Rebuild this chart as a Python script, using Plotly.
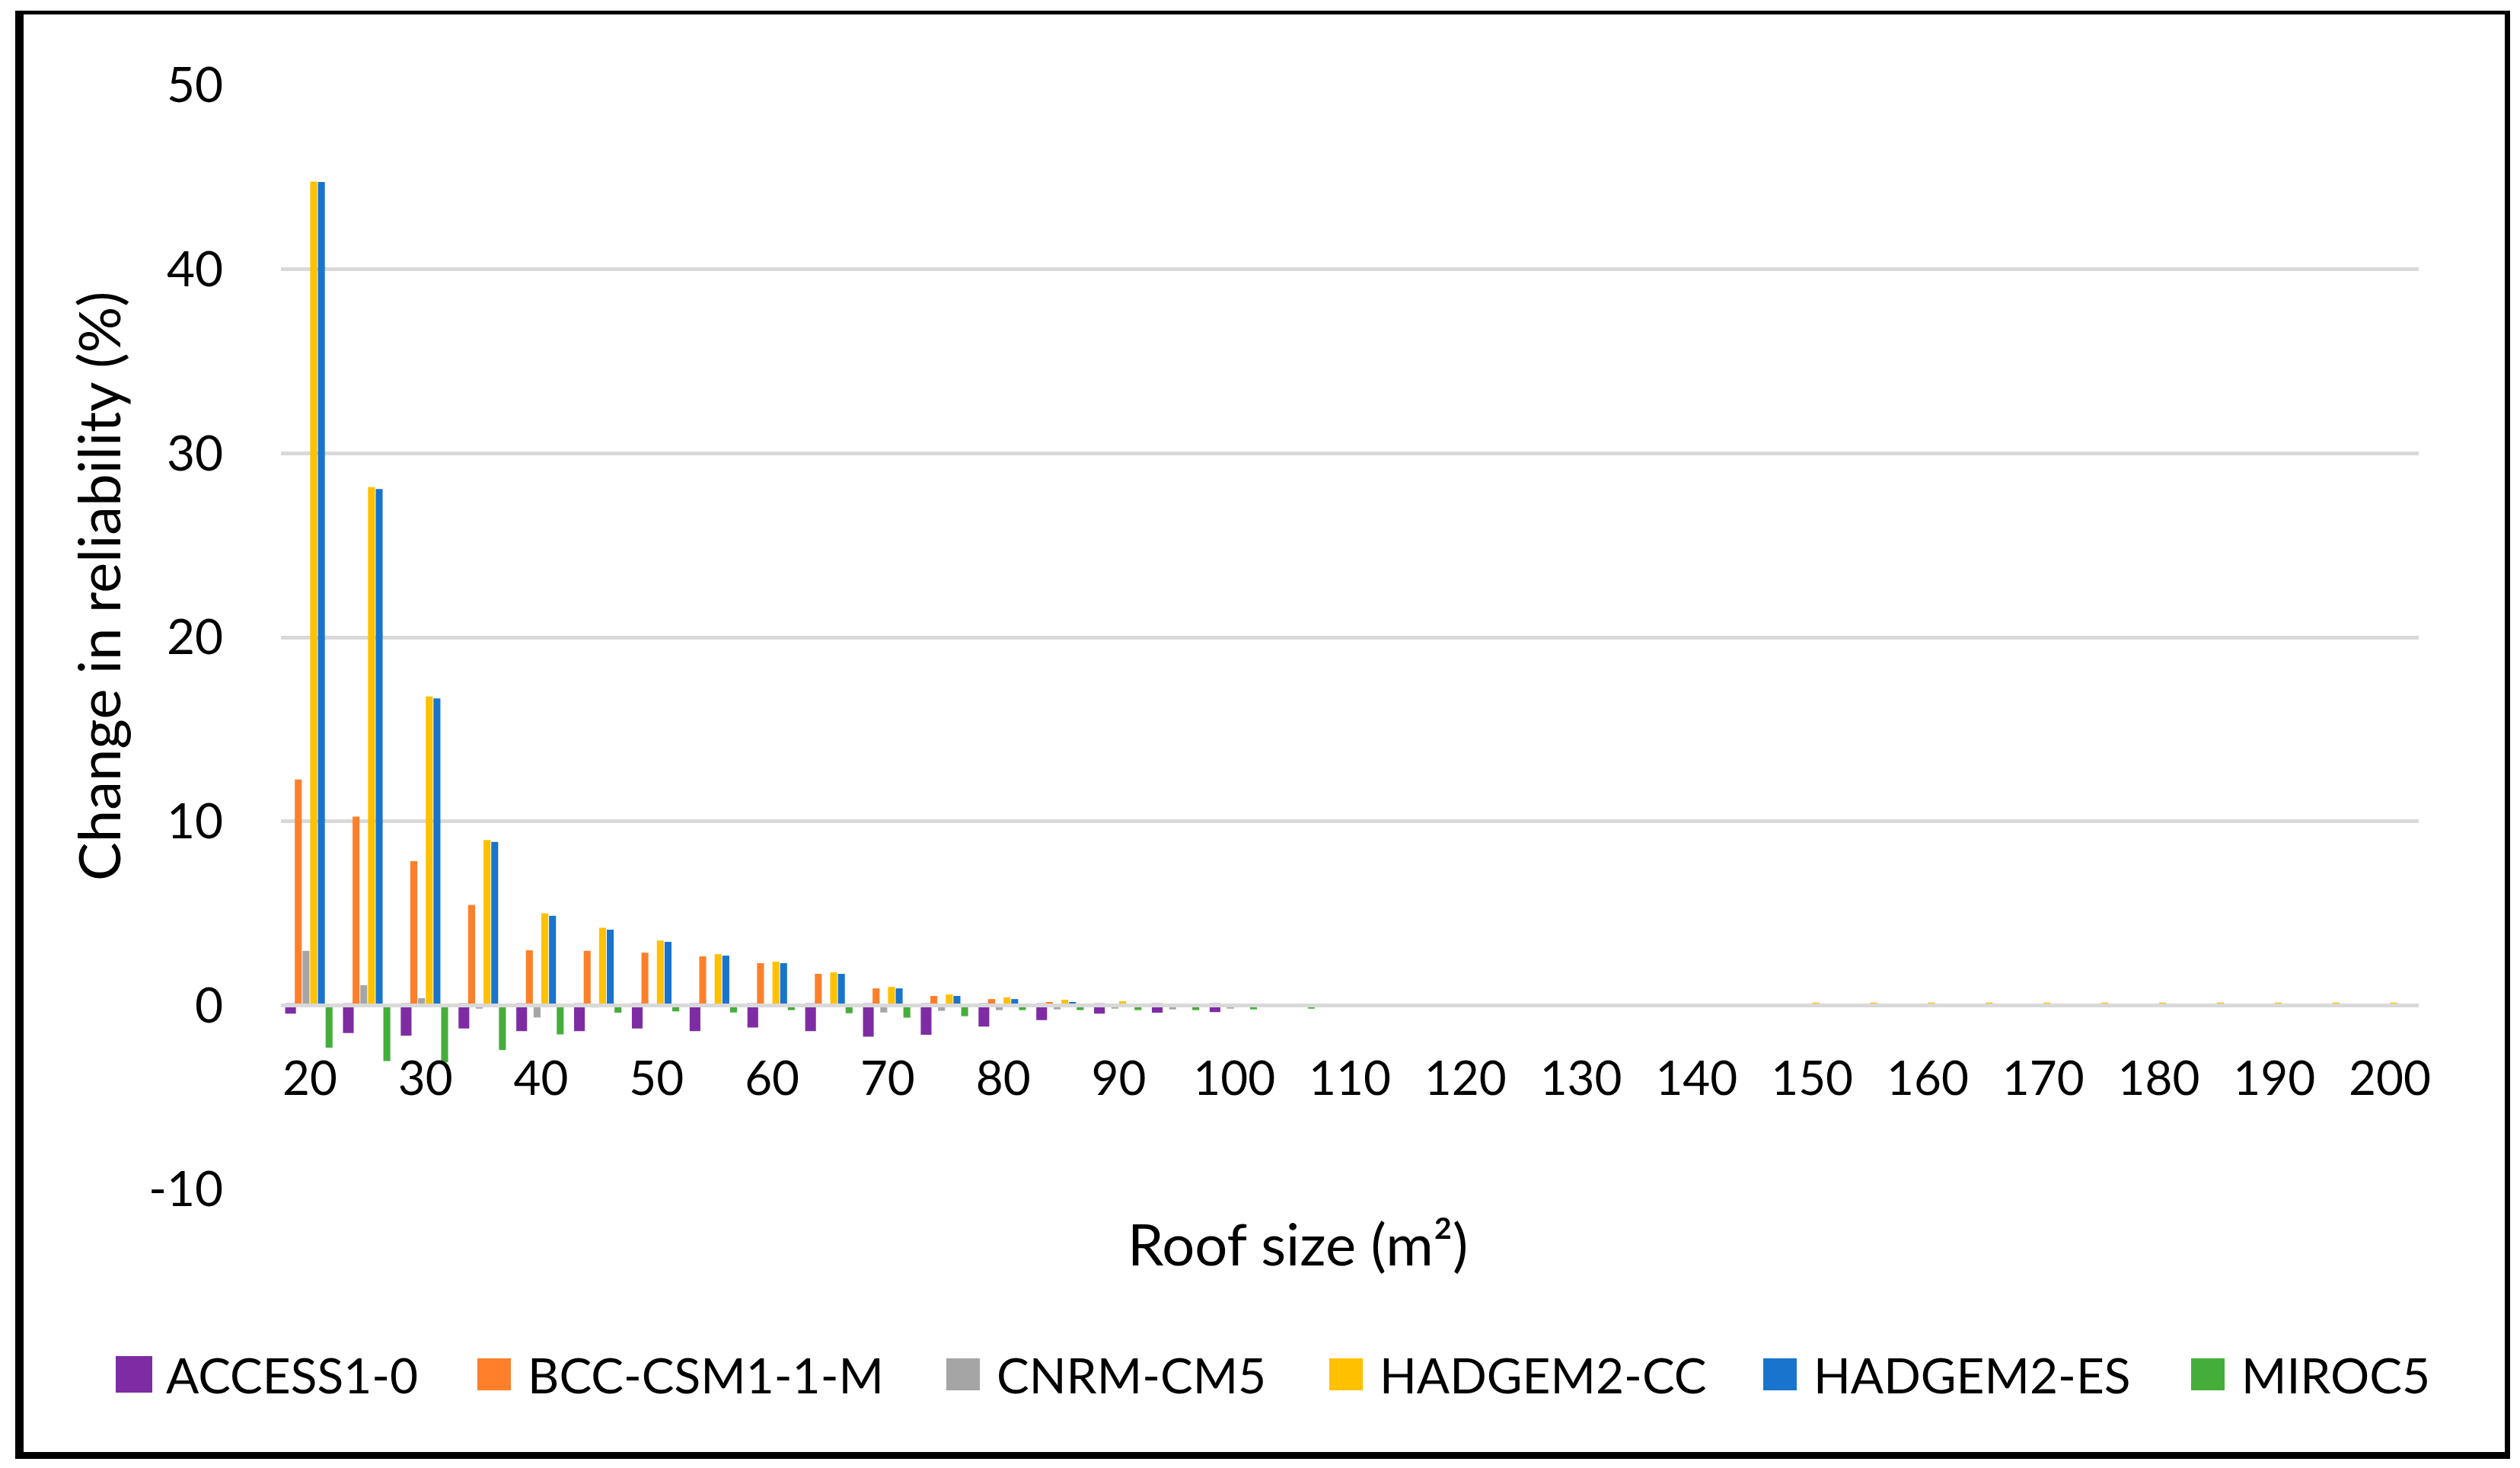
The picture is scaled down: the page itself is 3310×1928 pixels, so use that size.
import plotly.graph_objects as go

# ---------------- data ----------------
roof_sizes = ["20", "25", "30", "35", "40", "45", "50", "55", "60", "65",
              "70", "75", "80", "85", "90", "95", "100", "105", "110", "115",
              "120", "125", "130", "135", "140", "145", "150", "155", "160", "165",
              "170", "175", "180", "185", "190", "195", "200"]

x_tick_labels = ["20", "30", "40", "50", "60", "70", "80", "90", "100", "110",
                 "120", "130", "140", "150", "160", "170", "180", "190", "200"]

y_tick_values = [-10, 0, 10, 20, 30, 40, 50]
y_tick_labels = ["-10", "0", "10", "20", "30", "40", "50"]

access1_0 = [-0.35, -1.4, -1.55, -1.15, -1.3, -1.3, -1.15, -1.3, -1.1, -1.3,
             -1.6, -1.5, -1.05, -0.7, -0.35, -0.3, -0.27, 0, 0, 0,
             0, 0, 0, 0, 0, 0, 0, 0, 0, 0,
             0, 0, 0, 0, 0, 0, 0]
bcc_csm1_1_m = [12.27, 10.26, 7.83, 5.46, 2.99, 2.96, 2.86, 2.66, 2.29, 1.71,
                0.92, 0.51, 0.34, 0.18, 0.06, 0.03, 0.02, 0, 0, 0,
                0, 0, 0, 0, 0, 0, 0, 0, 0, 0,
                0, 0, 0, 0, 0, 0, 0]
cnrm_cm5 = [2.96, 1.09, 0.39, -0.18, -0.66, -0.12, -0.05, 0, 0, 0,
            -0.39, -0.30, -0.26, -0.22, -0.18, -0.22, -0.18, 0, 0, 0,
            0, 0, 0, 0, 0, 0, 0, 0, 0, 0,
            0, 0, 0, 0, 0, 0, 0]
hadgem2_cc = [44.77, 28.16, 16.78, 8.98, 5.0, 4.21, 3.52, 2.78, 2.37, 1.79,
              1.0, 0.59, 0.43, 0.30, 0.22, 0.05, 0.04, 0, 0, 0,
              0, 0, 0, 0, 0, 0, 0.15, 0.15, 0.15, 0.15,
              0.15, 0.15, 0.15, 0.15, 0.15, 0.15, 0.15]
hadgem2_es = [44.74, 28.06, 16.68, 8.88, 4.87, 4.11, 3.45, 2.70, 2.29, 1.71,
              0.92, 0.51, 0.34, 0.18, 0.08, 0.03, 0.02, 0, 0, 0,
              0, 0, 0, 0, 0, 0, 0, 0, 0, 0,
              0, 0, 0, 0, 0, 0, 0]
miroc5 = [-2.3, -3.03, -3.1, -2.43, -1.58, -0.4, -0.33, -0.39, -0.26, -0.43,
          -0.67, -0.59, -0.26, -0.26, -0.26, -0.26, -0.22, -0.18, 0, 0,
          0, 0, 0, 0, 0, 0, 0, 0, 0, 0,
          0, 0, 0, 0, 0, 0, 0]

series_names = ["ACCESS1-0", "BCC-CSM1-1-M", "CNRM-CM5", "HADGEM2-CC", "HADGEM2-ES", "MIROC5"]
series_values = [access1_0, bcc_csm1_1_m, cnrm_cm5, hadgem2_cc, hadgem2_es, miroc5]
series_colors = ["#7E2CA4", "#FF7F2A", "#A5A5A5", "#FFC000", "#1874CD", "#45AE3B"]

# ---------------- layout geometry (pixels) ----------------
W, H = 3310, 1928
L, R, T, B = 369, 3177, 112, 1562
FONT = "Lato"


def px_x(px):
    return (px - L) / (R - L)


def px_y(py):
    return (B - py) / (B - T)


fig = go.Figure()
for name, vals, col in zip(series_names, series_values, series_colors):
    if name == "ACCESS1-0":
        line_w = [5 if v != 0 else 0 for v in vals]
    else:
        line_w = 0
    fig.add_trace(go.Bar(
        x=roof_sizes, y=vals, name=name,
        marker=dict(color=col, line=dict(color=col, width=line_w)),
        showlegend=False,
    ))

shapes = []
# outer frame (thicker on left and bottom)
frame = [(20, 14, 3297, 19), (3290, 14, 3297, 1916), (20, 14, 31, 1916), (20, 1907, 3297, 1916)]
for x0, y0, x1, y1 in frame:
    shapes.append(dict(type="rect", xref="paper", yref="paper",
                       x0=px_x(x0), x1=px_x(x1), y0=px_y(y0), y1=px_y(y1),
                       fillcolor="black", line=dict(width=0), layer="above"))

annotations = []
# manual legend
legend_x = [152, 627, 1243, 1746, 2316, 2878]
legend_yc = 1805
for i, (name, col) in enumerate(zip(series_names, series_colors)):
    sx = legend_x[i]
    half = 24 if i == 0 else 21
    sw = 48 if i == 0 else 44
    shapes.append(dict(type="rect", xref="paper", yref="paper",
                       x0=px_x(sx), x1=px_x(sx + sw),
                       y0=px_y(legend_yc - half), y1=px_y(legend_yc + half),
                       fillcolor=col, line=dict(width=0)))
    annotations.append(dict(text=name, xref="paper", yref="paper",
                            x=px_x(sx + 64), y=px_y(legend_yc),
                            xanchor="left", yanchor="middle", showarrow=False,
                            font=dict(family=FONT, size=64, color="black")))

# axis titles
annotations.append(dict(text="Change in reliability (%)", xref="paper", yref="paper",
                        x=px_x(128), y=px_y(770), textangle=-90,
                        xanchor="center", yanchor="middle", showarrow=False,
                        font=dict(family=FONT, size=76, color="black")))
annotations.append(dict(text="Roof size (m²)", xref="paper", yref="paper",
                        x=px_x(1704), y=px_y(1632),
                        xanchor="center", yanchor="middle", showarrow=False,
                        font=dict(family=FONT, size=76, color="black")))

fig.update_layout(
    width=W, height=H,
    margin=dict(l=L, r=W - R, t=T, b=H - B, pad=0),
    paper_bgcolor="white", plot_bgcolor="white",
    barmode="group", bargap=0.2, bargroupgap=0.1,
    font=dict(family=FONT, color="black"),
    shapes=shapes, annotations=annotations,
    showlegend=False,
    xaxis=dict(
        type="category", categoryorder="array", categoryarray=roof_sizes,
        tickmode="array", tickvals=x_tick_labels, ticktext=x_tick_labels,
        anchor="free", position=10 / 60,
        showgrid=False, zeroline=False,
        showline=True, linecolor="#D9D9D9", linewidth=5,
        ticks="outside", ticklen=40, tickcolor="rgba(0,0,0,0)",
        tickfont=dict(family=FONT, size=62, color="black"),
        layer="above traces",
    ),
    yaxis=dict(
        range=[-10, 50], tickmode="array", tickvals=y_tick_values, ticktext=y_tick_labels,
        showgrid=True, gridcolor="#D9D9D9", gridwidth=5,
        zeroline=False, showline=False,
        ticks="outside", ticklen=62, tickcolor="rgba(0,0,0,0)",
        tickfont=dict(family=FONT, size=64, color="black"),
    ),
)

fig.write_html("out.html",
               config={"displayModeBar": False},
               post_script="document.body.style.margin='0';document.body.style.overflow='hidden';")
